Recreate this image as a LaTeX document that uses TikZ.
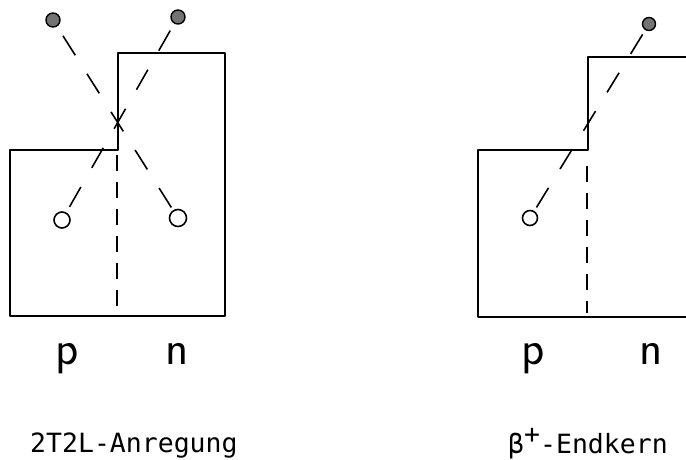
\documentclass[tikz,border=0pt]{standalone}
\usepackage{fontspec}
\newfontfamily\typefont{DejaVu Sans Mono}

\begin{document}
\begin{tikzpicture}[x=1pt, y=-1pt,
  wall/.style={line width=2pt, line join=round},
  cut/.style={line width=1.4pt, dash pattern=on 16pt off 11pt},
  track/.style={line width=1.6pt, dash pattern=on 23pt off 22pt},
  particle/.style={circle, draw, line width=1.4pt, fill=black!55, inner sep=0pt, minimum size=14pt},
  hole/.style={circle, draw, line width=1.6pt, fill=white, inner sep=0pt, minimum size=16pt},
  letter/.style={font=\sffamily\fontsize{48}{48}\selectfont, anchor=base, inner sep=0pt},
  caption/.style={font=\typefont\fontsize{26.5}{26.5}\selectfont, anchor=base west, inner sep=0pt}]
  \useasboundingbox (0,0) rectangle (686,460);
  % left well
  \draw[wall] (10,150) -- (118,150) -- (118,53) -- (225,53) -- (225,316) -- (10,316) -- cycle;
  \draw[cut] (117,155) -- (117,316);
  % right well
  \draw[wall] (686,57) -- (588,57) -- (588,150) -- (478,150) -- (478,317) -- (686,317);
  \draw[cut] (587,166) -- (587,313);
  % particles and holes
  \node[particle] (leftTopA) at (53,20) {};
  \node[particle] (leftTopB) at (178,17) {};
  \node[hole] (leftHoleA) at (62,220) {};
  \node[hole, minimum size=17pt] (leftHoleB) at (178,218) {};
  \node[particle, minimum size=13pt] (rightTop) at (649,24) {};
  \node[hole, minimum size=15pt] (rightHole) at (530,218) {};
  % transitions
  \draw[track, dash phase=34pt] (leftTopA) -- (leftHoleB);
  \draw[track, dash phase=37pt] (leftTopB) -- (leftHoleA);
  \draw[track, dash phase=40pt] (rightTop) -- (rightHole);
  % labels
  \node[letter] (leftP) at (67,364) {p};
  \node[letter] (leftN) at (177,364) {n};
  \node[letter] (rightP) at (533,364) {p};
  \node[letter] (rightN) at (651,364) {n};
  \node[caption] (leftCap) at (30,452) {2T2L-Anregung};
  \node[caption] (rightCap) at (508,453) {β\raisebox{10pt}{+}-Endkern};
\end{tikzpicture}
\end{document}
